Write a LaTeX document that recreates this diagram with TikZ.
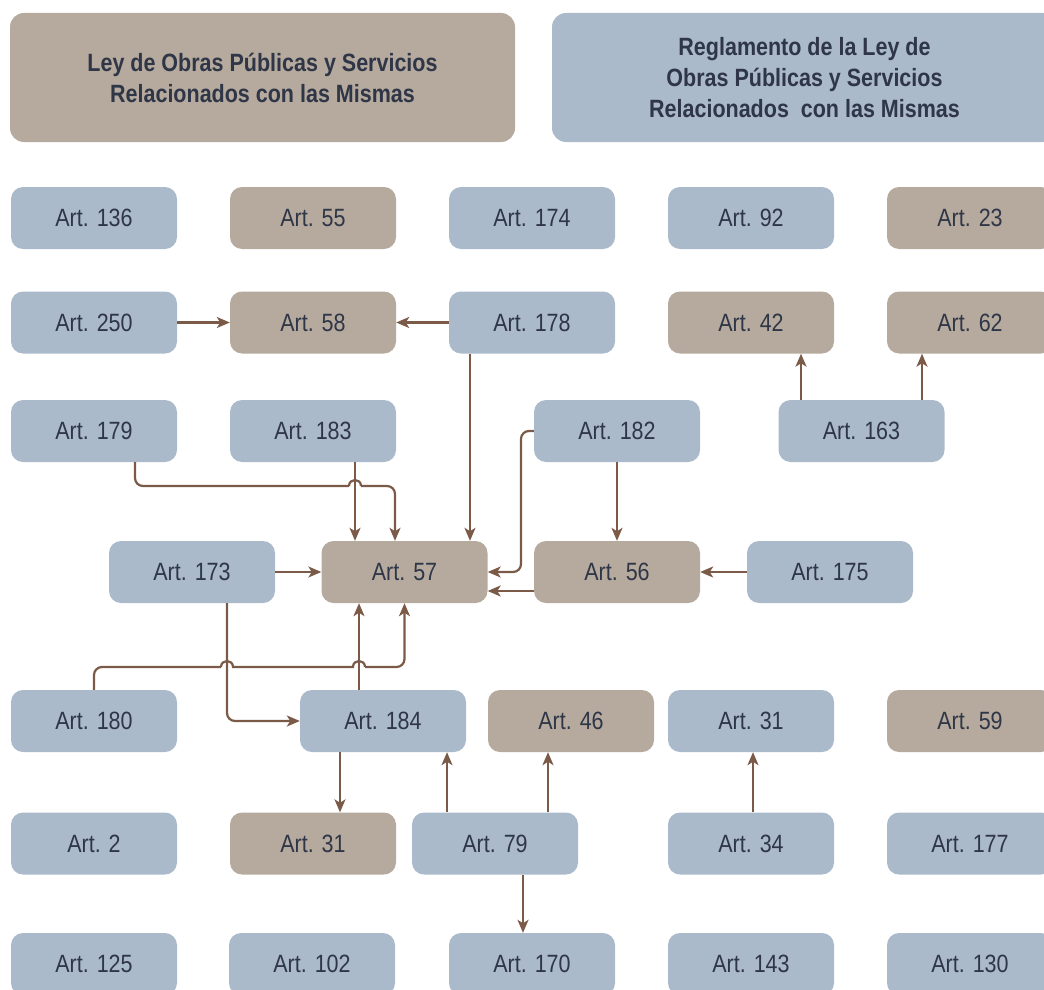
\documentclass[tikz,border=0pt]{standalone}
\usepackage{fontspec}
\setmainfont{Liberation Sans}[FakeStretch=0.86]
\usetikzlibrary{arrows.meta}
\definecolor{bluebox}{HTML}{AABACB}
\definecolor{tanbox}{HTML}{B5AA9D}
\definecolor{txt}{HTML}{2F3647}
\definecolor{arr}{HTML}{7B5A48}
\begin{document}
\begin{tikzpicture}[x=1pt,y=-1pt,
  box/.style={rectangle, rounded corners=12pt, minimum width=166pt, minimum height=62pt, inner sep=0pt, text=txt, font=\fontsize{25}{30}\selectfont},
  bl/.style={box, fill=bluebox},
  tn/.style={box, fill=tanbox},
  wire/.style={draw=arr, line width=2.2pt, rounded corners=8pt},
  conn/.style={wire, -{Stealth[length=13pt,width=11pt,inset=3.5pt]}},
  hop/.style={draw=arr, line width=2.2pt, sharp corners},
  hdr/.style={rectangle, rounded corners=14pt, inner sep=0pt, minimum width=505pt, minimum height=129pt, text=txt, font=\bfseries\fontsize{25}{31}\selectfont, align=center}]
\useasboundingbox (0,0) rectangle (1044,990);
\clip (0,0) rectangle (1044,990);
% headers
\node[hdr, fill=tanbox] (h1) at (262.5,77.5) {Ley de Obras Públicas y Servicios\\Relacionados con las Mismas};
\node[hdr, fill=bluebox] (h2) at (804.5,77.5) {Reglamento de la Ley de\\Obras Públicas y Servicios\\Relacionados\ \ con las Mismas};
% row 1
\node[bl] (a136) at (94,218) {Art. 136};
\node[tn] (a55) at (313,218) {Art. 55};
\node[bl] (a174) at (532,218) {Art. 174};
\node[bl] (a92) at (751,218) {Art. 92};
\node[tn] (a23) at (970,218) {Art. 23};
% row 2
\node[bl] (a250) at (94,322.5) {Art. 250};
\node[tn] (a58) at (313,322.5) {Art. 58};
\node[bl] (a178) at (532,322.5) {Art. 178};
\node[tn] (a42) at (751,322.5) {Art. 42};
\node[tn] (a62) at (970,322.5) {Art. 62};
% row 3
\node[bl] (a179) at (94,431) {Art. 179};
\node[bl] (a183) at (313,431) {Art. 183};
\node[bl] (a182) at (617,431) {Art. 182};
\node[bl] (a163) at (861.5,431) {Art. 163};
% row 4
\node[bl] (a173) at (192,572) {Art. 173};
\node[tn] (a57) at (404.5,572) {Art. 57};
\node[tn] (a56) at (617,572) {Art. 56};
\node[bl] (a175) at (830,572) {Art. 175};
% row 5
\node[bl] (a180) at (94,721) {Art. 180};
\node[bl] (a184) at (383,721) {Art. 184};
\node[tn] (a46) at (571,721) {Art. 46};
\node[bl] (a31b) at (751,721) {Art. 31};
\node[tn] (a59) at (970,721) {Art. 59};
% row 6
\node[bl] (a2) at (94,843.5) {Art. 2};
\node[tn] (a31t) at (313,843.5) {Art. 31};
\node[bl] (a79) at (495,843.5) {Art. 79};
\node[bl] (a34) at (751,843.5) {Art. 34};
\node[bl] (a177) at (970,843.5) {Art. 177};
% row 7
\node[bl] (a125) at (94,964) {Art. 125};
\node[bl] (a102) at (312,964) {Art. 102};
\node[bl] (a170) at (532,964) {Art. 170};
\node[bl] (a143) at (751,964) {Art. 143};
\node[bl] (a130) at (970,964) {Art. 130};
% connectors
\draw[conn] (a250.east) -- (a58.west);
\draw[conn] (a178.west) -- (a58.east);
\draw[conn] ([xshift=-62pt]a178.south) -- ([xshift=-62pt]a178.south |- a57.north);
\draw[conn] ([xshift=42pt]a183.south) -- ([xshift=42pt]a183.south |- a57.north);
% Art. 179 -> Art. 57, hopping over the Art. 183 line
\coordinate (c179) at ([xshift=41pt]a179.south);
\coordinate (h1a) at (349,486);
\coordinate (h1b) at (361,486);
\draw[wire] (c179) -- (c179 |- h1a) -- (h1a);
\draw[hop] (h1a) .. controls (349,478) and (361,478) .. (h1b);
\draw[conn] (h1b) -- (395,486) -- (395,486 |- a57.north);
% Art. 182 -> Art. 57
\draw[conn] (a182.west) -- (521,431) -- (521,572) -- (a57.east);
\draw[conn] (a182.south) -- (a56.north);
\draw[conn] ([yshift=-19pt]a56.west) -- ([yshift=-19pt]a56.west -| a57.east);
\draw[conn] (a175.west) -- (a56.east);
\draw[conn] (a173.east) -- (a57.west);
\coordinate (c173) at ([xshift=35pt]a173.south);
\draw[conn] (c173) -- (c173 |- a184.west) -- (a184.west);
% Art. 180 -> Art. 57, hopping over two lines
\coordinate (h2a) at (221,667);
\coordinate (h2b) at (233,667);
\coordinate (h3a) at (353,667);
\coordinate (h3b) at (365,667);
\draw[wire] (a180.north) -- (a180.north |- h2a) -- (h2a);
\draw[hop] (h2a) .. controls (221,659) and (233,659) .. (h2b) -- (h3a) .. controls (353,659) and (365,659) .. (h3b);
\draw[conn] (h3b) -- (a57.south |- h3b) -- (a57.south);
\draw[conn] ([xshift=-24pt]a184.north) -- ([xshift=-24pt]a184.north |- a57.south);
\draw[conn] ([xshift=-43pt]a184.south) -- ([xshift=-43pt]a184.south |- a31t.north);
\draw[conn] ([xshift=-48pt]a79.north) -- ([xshift=-48pt]a79.north |- a184.south);
\draw[conn] ([xshift=53pt]a79.north) -- ([xshift=53pt]a79.north |- a46.south);
\draw[conn] ([xshift=28pt]a79.south) -- ([xshift=28pt]a79.south |- a170.north);
\draw[conn] ([xshift=2pt]a34.north) -- ([xshift=2pt]a34.north |- a31b.south);
\draw[conn] ([xshift=-60.5pt]a163.north) -- ([xshift=-60.5pt]a163.north |- a42.south);
\draw[conn] ([xshift=60.5pt]a163.north) -- ([xshift=60.5pt]a163.north |- a62.south);
\end{tikzpicture}
\end{document}
